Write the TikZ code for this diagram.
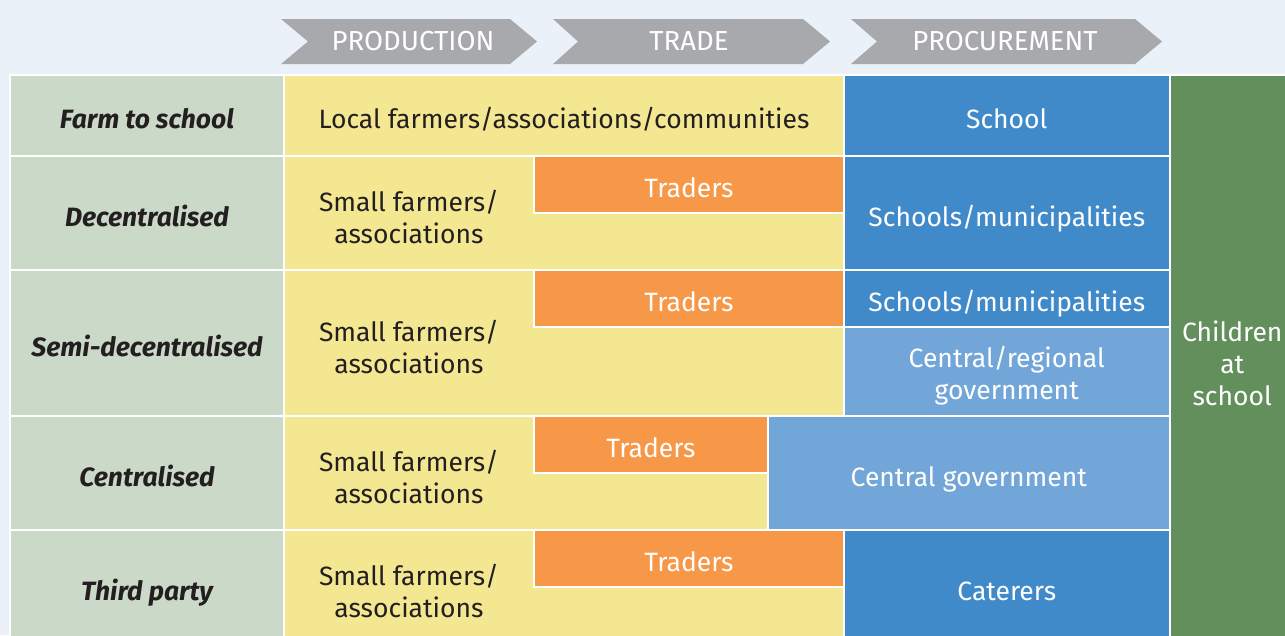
\documentclass[tikz,border=0pt]{standalone}
\usepackage{fontspec}
\setmainfont{Fira Sans}
\usepackage{xcolor}
\usetikzlibrary{positioning}

\definecolor{pagebg}{HTML}{EAF1F9}
\definecolor{modelgrey}{HTML}{CBD9C8}
\definecolor{prodyellow}{HTML}{F4E792}
\definecolor{tradeorange}{HTML}{F79848}
\definecolor{procblue}{HTML}{418ACA}
\definecolor{govblue}{HTML}{73A6D8}
\definecolor{childgreen}{HTML}{628F5C}
\definecolor{stagegrey}{HTML}{A8A9AD}
\definecolor{inkdark}{HTML}{231F20}

\newcommand{\bodysize}{\fontsize{26.5}{32}\selectfont}
\newcommand{\stagesize}{\fontsize{27.5}{32}\selectfont}

\tikzset{
  cell/.style={rectangle, draw=white, line width=2pt, outer sep=0pt, inner sep=0pt,
    text height=26pt, text depth=0pt},
  model/.style={cell, fill=modelgrey, minimum width=274pt, text=inkdark, font=\bodysize\bfseries\itshape},
  prod/.style={cell, fill=prodyellow, text=inkdark, font=\bodysize},
  trader/.style={cell, fill=tradeorange, minimum height=57pt, text=white, font=\bodysize},
  proc/.style={cell, fill=procblue, text=white, font=\bodysize},
  gov/.style={cell, fill=govblue, text=white, font=\bodysize},
  child/.style={cell, fill=childgreen},
  celltext/.style={font=\bodysize, align=center},
  stage/.style={fill=stagegrey},
  stagetext/.style={text=white, font=\stagesize},
}

\begin{document}
\begin{tikzpicture}[x=1pt, y=-1pt]
  \useasboundingbox (0,0) rectangle (1285,635);
  \fill[pagebg] (0,0) rectangle (1285,635);

  % stages
  \fill[stage] (281,19) -- (510,19) -- (537,41.5) -- (510,64) -- (281,64) -- (308,41.5) -- cycle;
  \fill[stage] (553,19) -- (803,19) -- (830,41.5) -- (803,64) -- (553,64) -- (578,41.5) -- cycle;
  \fill[stage] (851,19) -- (1135,19) -- (1162,41.5) -- (1135,64) -- (851,64) -- (877,41.5) -- cycle;
  \node[stagetext] at (413,41.5) (production) {PRODUCTION};
  \node[stagetext] at (689,41.5) (trade) {TRADE};
  \node[stagetext] at (1005,41.5) (procurement) {PROCUREMENT};

  % models
  \node[model, minimum height=81pt] at (147,115.5) (farm) {Farm to school};
  \node[model, minimum height=114pt] at (147,213) (decentral) {Decentralised};
  \node[model, minimum height=146pt] at (147,343) (semi) {Semi-decentralised};
  \node[model, minimum height=114pt] at (147,473) (central) {Centralised};
  \node[model, minimum height=114pt] at (147,587) (third) {Third party};

  % production
  \node[prod, minimum width=560pt, minimum height=81pt] at (564,115.5) (local) {Local farmers/associations/communities};
  \node[prod, minimum width=560pt, minimum height=114pt] at (564,213) (prod2) {};
  \node[prod, minimum width=560pt, minimum height=146pt] at (564,343) (prod3) {};
  \node[prod, minimum width=484pt, minimum height=114pt] at (526,473) (prod4) {};
  \node[prod, minimum width=560pt, minimum height=114pt] at (564,587) (prod5) {};
  \node[celltext, text=inkdark] at (409,217) (small2) {Small farmers/\\associations};
  \node[celltext, text=inkdark] at (409,347) (small3) {Small farmers/\\associations};
  \node[celltext, text=inkdark] at (409,477) (small4) {Small farmers/\\associations};
  \node[celltext, text=inkdark] at (409,591) (small5) {Small farmers/\\associations};

  % trade
  \node[trader, minimum width=310pt] at (689,184.5) (trader2) {Traders};
  \node[trader, minimum width=310pt] at (689,298.5) (trader3) {Traders};
  \node[trader, minimum width=234pt] at (651,444.5) (trader4) {Traders};
  \node[trader, minimum width=310pt] at (689,558.5) (trader5) {Traders};

  % procurement
  \node[proc, minimum width=325.5pt, minimum height=81pt] at (1006.75,115.5) (school) {School};
  \node[proc, minimum width=325.5pt, minimum height=114pt] at (1006.75,213) (schools2) {Schools/municipalities};
  \node[proc, minimum width=325.5pt, minimum height=57pt] at (1006.75,298.5) (schools3) {Schools/municipalities};
  \node[gov, minimum width=325.5pt, minimum height=89pt] at (1006.75,371.5) (regional) {};
  \node[celltext, text=white] at (1006.75,375.5) (regionaltext) {Central/regional\\government};
  \node[gov, minimum width=401.5pt, minimum height=114pt] at (968.75,473) (centralgov) {Central government};
  \node[proc, minimum width=325.5pt, minimum height=114pt] at (1006.75,587) (caterers) {Caterers};

  % consumers
  \node[child, minimum width=125.5pt, minimum height=569pt] at (1232.25,359.5) (children) {};
  \node[celltext, text=white] at (1232.25,363) (childrentext) {Children\\at\\school};
\end{tikzpicture}
\end{document}
